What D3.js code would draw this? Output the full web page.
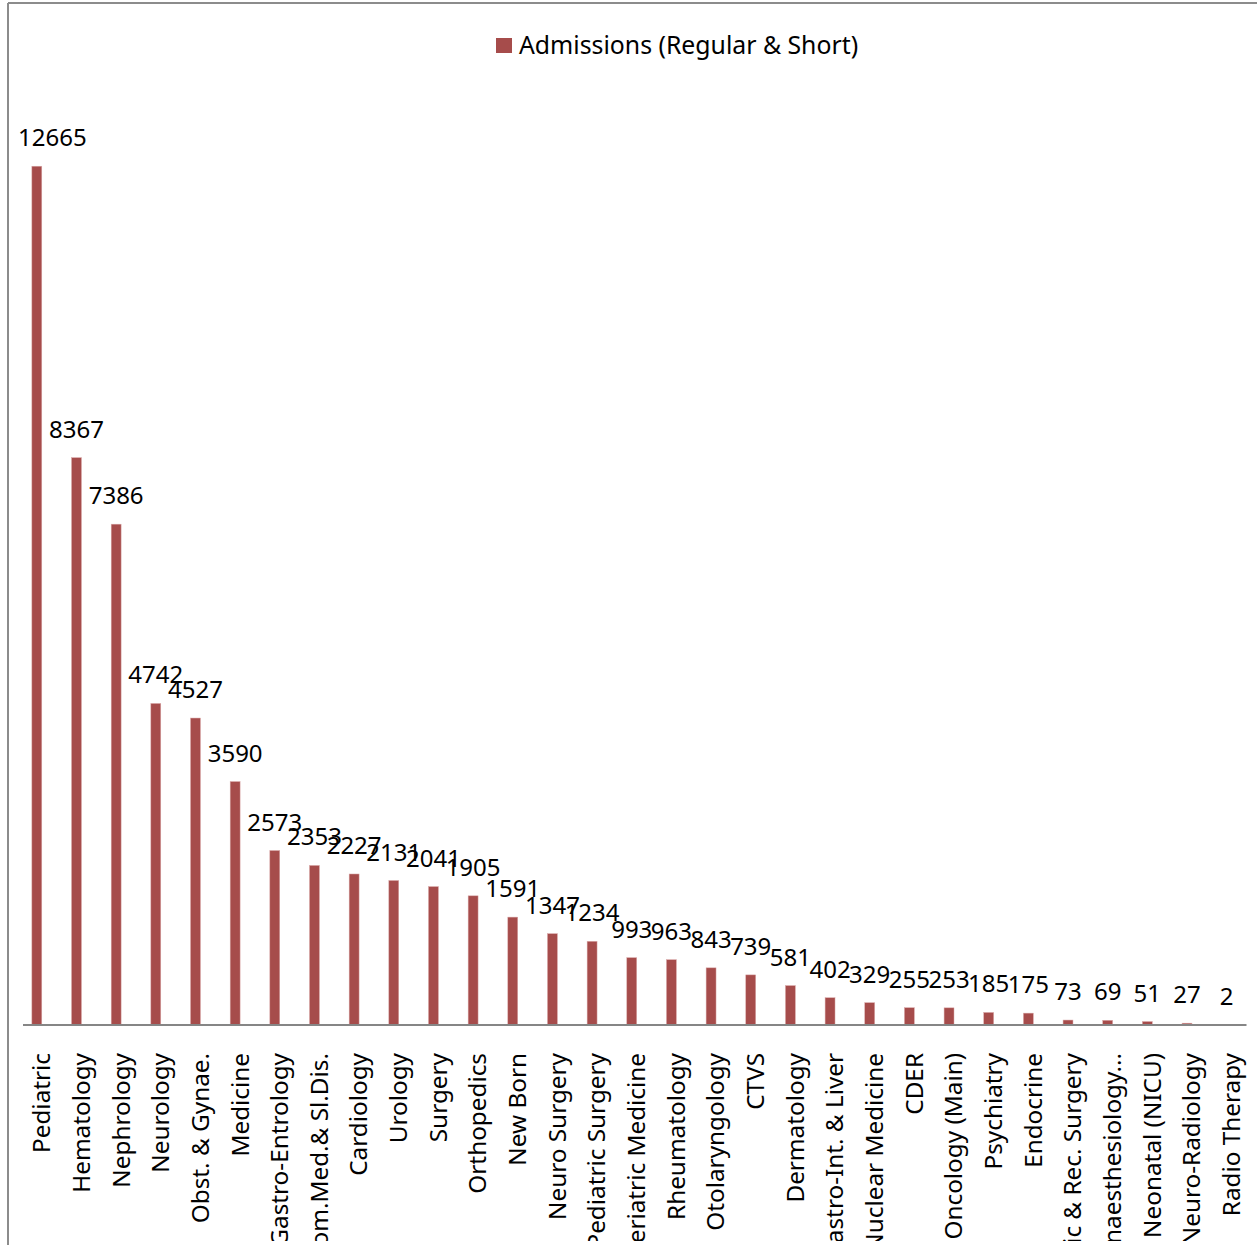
<!DOCTYPE html>
<html lang="en">

<head>
  <meta charset="UTF-8">
  <title>Admissions (Regular & Short)</title>
  <style>
    body {
      margin: 0;
      padding: 0;
      background: #fff;
    }

    svg {
      display: block;
      font-family: "Noto Sans", "Open Sans", sans-serif;
    }

    .bar {
      fill: #a64c4b;
      stroke: #d9a8a8;
      stroke-width: 0.5px;
    }

    .value {
      font-size: 24px;
      fill: #000;
      text-anchor: middle;
    }

    .cat {
      font-size: 24.3px;
      fill: #000;
      text-anchor: end;
    }
  </style>
</head>

<body>
  <div id="chart"></div>

  <script src="https://cdn.jsdelivr.net/npm/d3@7"></script>
  <script>
    var categories = [
      "Pediatric", "Hematology", "Nephrology", "Neurology", "Obst. & Gynae.",
      "Medicine", "Gastro-Entrology", "Com.Med.& Sl.Dis.", "Cardiology", "Urology",
      "Surgery", "Orthopedics", "New Born", "Neuro Surgery", "Pediatric Surgery",
      "Geriatric Medicine", "Rheumatology", "Otolaryngology", "CTVS", "Dermatology",
      "Gastro-Int. & Liver", "Nuclear Medicine", "CDER", "Oncology (Main)", "Psychiatry",
      "Endocrine", "Plastic & Rec. Surgery", "Anaesthesiology...", "Neonatal (NICU)", "Neuro-Radiology",
      "Radio Therapy"
    ];

    var admissions = [
      12665, 8367, 7386, 4742, 4527,
      3590, 2573, 2353, 2227, 2131,
      2041, 1905, 1591, 1347, 1234,
      993, 963, 843, 739, 581,
      402, 329, 255, 253, 185,
      175, 73, 69, 51, 27,
      2
    ];

    var seriesName = "Admissions (Regular & Short)";

    var width = 1257;
    var height = 1245;
    var baseY = 1025;

    var svg = d3.select("#chart")
      .append("svg")
      .attr("width", width)
      .attr("height", height);

    // chart frame (only the top and left edges are visible)
    svg.append("line")
      .attr("x1", 8).attr("x2", width)
      .attr("y1", 3).attr("y2", 3)
      .attr("stroke", "#8c8c8c").attr("stroke-width", 2);
    svg.append("line")
      .attr("x1", 8).attr("x2", 8)
      .attr("y1", 3).attr("y2", height)
      .attr("stroke", "#8c8c8c").attr("stroke-width", 2);

    var x = d3.scaleBand()
      .domain(categories)
      .range([17, 1246.5])
      .paddingInner(0.75)
      .paddingOuter(0.375);

    var y = d3.scaleLinear()
      .domain([0, 14000])
      .range([baseY, 75.7]);

    svg.selectAll(".bar")
      .data(admissions)
      .enter().append("rect")
      .attr("class", "bar")
      .attr("x", function(d, i) { return x(categories[i]); })
      .attr("width", x.bandwidth())
      .attr("y", function(d) { return y(d); })
      .attr("height", function(d) { return baseY - y(d); });

    // category axis line
    svg.append("line")
      .attr("x1", 23).attr("x2", 1246.5)
      .attr("y1", baseY).attr("y2", baseY)
      .attr("stroke", "#868686").attr("stroke-width", 2);

    // value labels
    svg.selectAll(".value")
      .data(admissions)
      .enter().append("text")
      .attr("class", "value")
      .attr("y", function(d) { return y(d) - 20; })
      .text(function(d) { return d; })
      .attr("x", function(d, i) {
        var cx = x(categories[i]) + x.bandwidth() / 2;
        var w = this.getComputedTextLength();
        return Math.max(cx, 18 + w / 2);
      });

    // rotated category labels, clipped at the bottom of the plot area
    svg.append("clipPath").attr("id", "catclip")
      .append("rect")
      .attr("x", 0).attr("y", 0)
      .attr("width", width).attr("height", 1241);

    svg.append("g")
      .attr("clip-path", "url(#catclip)")
      .selectAll(".cat")
      .data(categories)
      .enter().append("text")
      .attr("class", "cat")
      .attr("transform", function(d) {
        return "translate(" + (x(d) + x.bandwidth() / 2) + "," + 1053 + ")rotate(-90)";
      })
      .attr("dy", "0.55em")
      .text(function(d) { return d; });

    // legend
    var legend = svg.append("g").attr("transform", "translate(496,38)");
    legend.append("rect")
      .attr("width", 16).attr("height", 15)
      .attr("fill", "#a64c4b");
    legend.append("text")
      .attr("x", 23).attr("y", 16)
      .attr("font-size", "24.8px")
      .text(seriesName);
  </script>
</body>

</html>
